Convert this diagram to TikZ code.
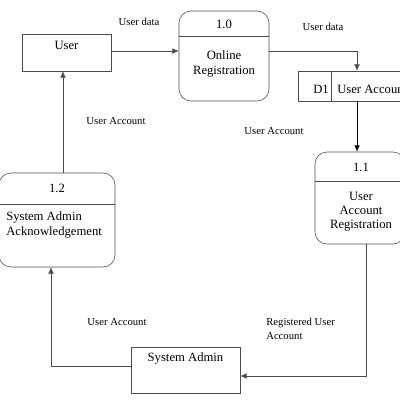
\documentclass[tikz,border=0pt]{standalone}
\usepackage{fontspec}
\setmainfont{Liberation Serif}
\usetikzlibrary{arrows.meta}

\tikzset{
  entity/.style={draw=black!70, inner sep=0pt},
  proc/.style={draw=black!70, rounded corners=0.3cm, inner sep=0pt},
  flow/.style={draw=black!70, -{Latex[length=4.5pt,width=4pt]}},
  txt/.style={font=\fontsize{9}{10}\selectfont, align=center, inner sep=0pt},
  lbl/.style={font=\fontsize{7.6}{10}\selectfont, align=left, inner sep=0pt}
}

\begin{document}
\begin{tikzpicture}[x=0.025cm,y=-0.025cm]
    \useasboundingbox (0,0) rectangle (400,400);
    \clip (0,0) rectangle (400,400);

    % Dis varliklar
    \node[entity, minimum width=2.225cm, minimum height=0.925cm] (user) at (66.5,52.5) {};
    \node[txt] (userT) at (66.5,45) {User};
    \node[entity, minimum width=2.725cm, minimum height=1.15cm] (admin) at (185.5,370) {};
    \node[txt] (adminT) at (185.5,358) {System Admin};

    % Veri deposu
    \node[entity, minimum width=3.05cm, minimum height=0.75cm] (d1) at (359,86) {};
    \draw[black!70] (331,71) -- (331,101);
    \node[txt, anchor=east] (d1id) at (329,89) {D1};
    \node[txt, anchor=west] (d1T) at (337,89) {User Account};

    % Surecler
    \node[proc, minimum width=2.25cm, minimum height=2.25cm] (p10) at (224,56) {};
    \draw[black!70] (179,36) -- (269,36);
    \node[txt] (p10id) at (224,24) {1.0};
    \node[txt] (p10T) at (224,64) {Online\\Registration};

    \node[proc, minimum width=2.25cm, minimum height=2.3cm] (p11) at (360,198) {};
    \draw[black!70] (315,181) -- (405,181);
    \node[txt] (p11id) at (361,167) {1.1};
    \node[txt] (p11T) at (361,212) {User\\Account\\Registration};

    \node[proc, minimum width=2.9cm, minimum height=2.35cm] (p12) at (57,220) {};
    \draw[black!70] (-1,204) -- (115,204);
    \node[txt] (p12id) at (57,188) {1.2};
    \node[txt, align=left, anchor=west] (p12T) at (6,225) {System Admin\\Acknowledgement};

    % Veri akislari
    \coordinate (c1) at (357,51);
    \coordinate (c2) at (366,376);
    \coordinate (c3) at (51,366);
    \coordinate (c4) at (63,0);
    \draw[flow] (user.east |- c1) -- (p10.west |- c1);
    \draw[flow] (p10.east |- c1) -- (c1) -- (c1 |- d1.north);
    \draw[flow, draw=black, semithick] (c1 |- d1.south) -- (c1 |- p11.north);
    \draw[flow] (c2 |- p11.south) -- (c2) -- (admin.east |- c2);
    \draw[flow] (admin.west |- c3) -- (c3) -- (c3 |- p12.south);
    \draw[flow] (c4 |- p12.north) -- (c4 |- user.south);

    % Etiketler
    \node[lbl] (f1) at (139,22) {User data};
    \node[lbl] (f2) at (323,27) {User data};
    \node[lbl] (f3) at (274,131) {User Account};
    \node[lbl, anchor=west] (f4) at (266,329) {Registered User\\Account};
    \node[lbl] (f5) at (117,322) {User Account};
    \node[lbl] (f6) at (116,121) {User Account};
\end{tikzpicture}
\end{document}
